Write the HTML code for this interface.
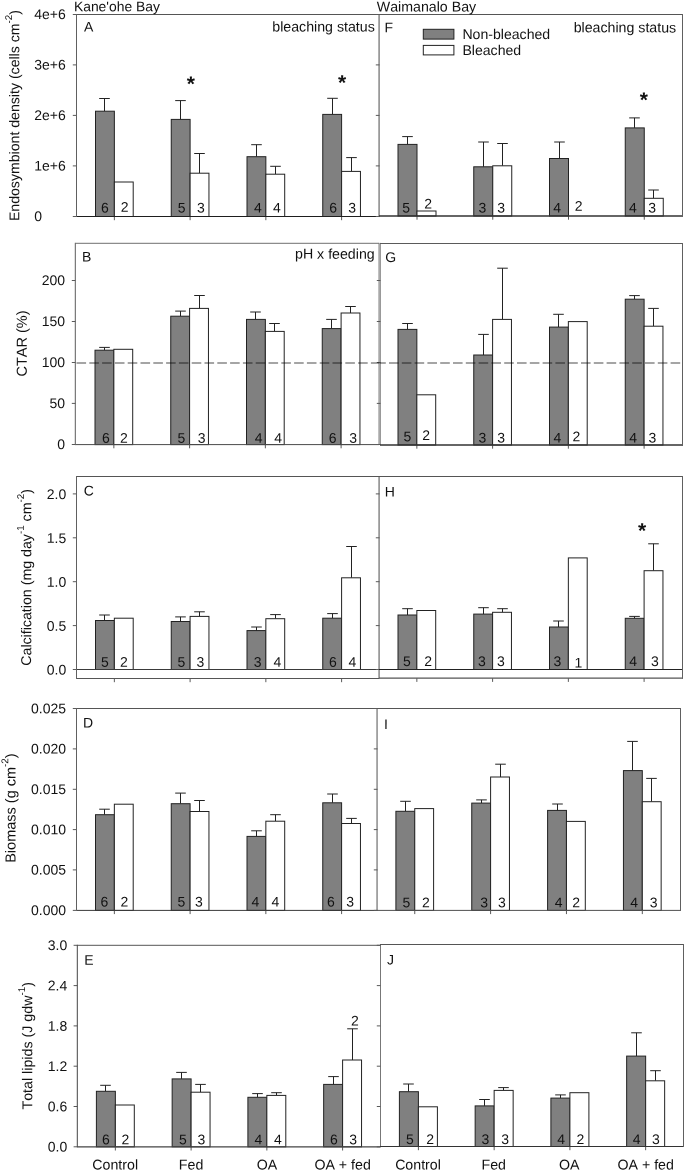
<!DOCTYPE html>
<html><head><meta charset="utf-8"><title>Figure</title>
<style>
html,body{margin:0;padding:0;background:#fff;}
body{width:685px;height:1171px;overflow:hidden;}
svg{display:block;will-change:transform;}
text{font-family:"Liberation Sans", sans-serif;fill:#111;font-kerning:none;}

</style></head><body>
<svg width="685" height="1171" viewBox="0 0 685 1171">
<rect x="0" y="0" width="685" height="1171" fill="#fff"/>
<rect x="378" y="14.0" width="1" height="202.50" fill="#b0b0b0"/>
<rect x="379" y="14.0" width="1" height="202.50" fill="#999"/>
<line x1="76.50" y1="14.50" x2="379.00" y2="14.50" stroke="#555" stroke-width="1" />
<line x1="72.80" y1="216.50" x2="76.50" y2="216.50" stroke="#5a5a5a" stroke-width="1" />
<line x1="72.80" y1="165.90" x2="76.50" y2="165.90" stroke="#5a5a5a" stroke-width="1" />
<line x1="72.80" y1="115.40" x2="76.50" y2="115.40" stroke="#5a5a5a" stroke-width="1" />
<line x1="72.80" y1="64.90" x2="76.50" y2="64.90" stroke="#5a5a5a" stroke-width="1" />
<line x1="72.80" y1="14.50" x2="76.50" y2="14.50" stroke="#5a5a5a" stroke-width="1" />
<line x1="104.50" y1="111.20" x2="104.50" y2="98.50" stroke="#222" stroke-width="1" />
<line x1="99.20" y1="98.50" x2="109.80" y2="98.50" stroke="#222" stroke-width="1" />
<rect x="95.50" y="111.20" width="18.85" height="105.30" fill="#808080" stroke="#222" stroke-width="1"/>
<rect x="114.35" y="182.00" width="18.85" height="34.50" fill="#fff" stroke="#222" stroke-width="1"/>
<text x="104.95" y="212.60" transform="rotate(0.05 104.95 212.60)" text-anchor="middle" font-size="14">6</text>
<text x="124.65" y="211.80" transform="rotate(0.05 124.65 211.80)" text-anchor="middle" font-size="14">2</text>
<line x1="114.35" y1="216.50" x2="114.35" y2="220.20" stroke="#5a5a5a" stroke-width="1" />
<line x1="180.50" y1="119.40" x2="180.50" y2="100.60" stroke="#222" stroke-width="1" />
<line x1="175.20" y1="100.60" x2="185.80" y2="100.60" stroke="#222" stroke-width="1" />
<rect x="171.25" y="119.40" width="18.85" height="97.10" fill="#808080" stroke="#222" stroke-width="1"/>
<line x1="199.50" y1="173.20" x2="199.50" y2="153.50" stroke="#222" stroke-width="1" />
<line x1="194.20" y1="153.50" x2="204.80" y2="153.50" stroke="#222" stroke-width="1" />
<rect x="190.10" y="173.20" width="18.85" height="43.30" fill="#fff" stroke="#222" stroke-width="1"/>
<text x="181.70" y="212.60" transform="rotate(0.05 181.70 212.60)" text-anchor="middle" font-size="14">5</text>
<text x="200.80" y="212.60" transform="rotate(0.05 200.80 212.60)" text-anchor="middle" font-size="14">3</text>
<line x1="190.10" y1="216.50" x2="190.10" y2="220.20" stroke="#5a5a5a" stroke-width="1" />
<line x1="256.50" y1="156.70" x2="256.50" y2="144.70" stroke="#222" stroke-width="1" />
<line x1="251.20" y1="144.70" x2="261.80" y2="144.70" stroke="#222" stroke-width="1" />
<rect x="247.00" y="156.70" width="18.85" height="59.80" fill="#808080" stroke="#222" stroke-width="1"/>
<line x1="275.50" y1="174.20" x2="275.50" y2="166.30" stroke="#222" stroke-width="1" />
<line x1="270.20" y1="166.30" x2="280.80" y2="166.30" stroke="#222" stroke-width="1" />
<rect x="265.85" y="174.20" width="18.85" height="42.30" fill="#fff" stroke="#222" stroke-width="1"/>
<text x="257.80" y="212.60" transform="rotate(0.05 257.80 212.60)" text-anchor="middle" font-size="14">4</text>
<text x="277.00" y="212.60" transform="rotate(0.05 277.00 212.60)" text-anchor="middle" font-size="14">4</text>
<line x1="265.85" y1="216.50" x2="265.85" y2="220.20" stroke="#5a5a5a" stroke-width="1" />
<line x1="332.50" y1="114.40" x2="332.50" y2="98.30" stroke="#222" stroke-width="1" />
<line x1="327.20" y1="98.30" x2="337.80" y2="98.30" stroke="#222" stroke-width="1" />
<rect x="322.75" y="114.40" width="18.85" height="102.10" fill="#808080" stroke="#222" stroke-width="1"/>
<line x1="351.50" y1="171.40" x2="351.50" y2="157.60" stroke="#222" stroke-width="1" />
<line x1="346.20" y1="157.60" x2="356.80" y2="157.60" stroke="#222" stroke-width="1" />
<rect x="341.60" y="171.40" width="18.85" height="45.10" fill="#fff" stroke="#222" stroke-width="1"/>
<text x="333.10" y="212.60" transform="rotate(0.05 333.10 212.60)" text-anchor="middle" font-size="14">6</text>
<text x="352.10" y="212.60" transform="rotate(0.05 352.10 212.60)" text-anchor="middle" font-size="14">3</text>
<line x1="341.60" y1="216.50" x2="341.60" y2="220.20" stroke="#5a5a5a" stroke-width="1" />
<line x1="76.50" y1="216.50" x2="379.00" y2="216.50" stroke="#1e1e1e" stroke-width="1" />
<line x1="76.50" y1="14.00" x2="76.50" y2="217.00" stroke="#606060" stroke-width="1" />
<text x="84.00" y="31.60" transform="rotate(0.05 84.00 31.60)" text-anchor="start" font-size="14">A</text>
<line x1="379.00" y1="14.50" x2="683.00" y2="14.50" stroke="#555" stroke-width="1" />
<line x1="375.80" y1="216.50" x2="379.50" y2="216.50" stroke="#5a5a5a" stroke-width="1" />
<line x1="375.80" y1="165.90" x2="379.50" y2="165.90" stroke="#5a5a5a" stroke-width="1" />
<line x1="375.80" y1="115.40" x2="379.50" y2="115.40" stroke="#5a5a5a" stroke-width="1" />
<line x1="375.80" y1="64.90" x2="379.50" y2="64.90" stroke="#5a5a5a" stroke-width="1" />
<line x1="375.80" y1="14.50" x2="379.50" y2="14.50" stroke="#5a5a5a" stroke-width="1" />
<line x1="407.50" y1="144.40" x2="407.50" y2="136.60" stroke="#222" stroke-width="1" />
<line x1="402.20" y1="136.60" x2="412.80" y2="136.60" stroke="#222" stroke-width="1" />
<rect x="398.00" y="144.40" width="19.00" height="71.60" fill="#808080" stroke="#222" stroke-width="1"/>
<rect x="417.00" y="211.00" width="19.00" height="5.00" fill="#fff" stroke="#222" stroke-width="1"/>
<text x="406.10" y="212.40" transform="rotate(0.05 406.10 212.40)" text-anchor="middle" font-size="14">5</text>
<text x="428.10" y="208.40" transform="rotate(0.05 428.10 208.40)" text-anchor="middle" font-size="14">2</text>
<line x1="417.00" y1="216.00" x2="417.00" y2="219.70" stroke="#5a5a5a" stroke-width="1" />
<line x1="483.50" y1="166.80" x2="483.50" y2="142.00" stroke="#222" stroke-width="1" />
<line x1="478.20" y1="142.00" x2="488.80" y2="142.00" stroke="#222" stroke-width="1" />
<rect x="473.75" y="166.80" width="19.00" height="49.20" fill="#808080" stroke="#222" stroke-width="1"/>
<line x1="502.50" y1="165.80" x2="502.50" y2="143.50" stroke="#222" stroke-width="1" />
<line x1="497.20" y1="143.50" x2="507.80" y2="143.50" stroke="#222" stroke-width="1" />
<rect x="492.75" y="165.80" width="19.00" height="50.20" fill="#fff" stroke="#222" stroke-width="1"/>
<text x="482.30" y="212.40" transform="rotate(0.05 482.30 212.40)" text-anchor="middle" font-size="14">3</text>
<text x="501.20" y="212.40" transform="rotate(0.05 501.20 212.40)" text-anchor="middle" font-size="14">3</text>
<line x1="492.75" y1="216.00" x2="492.75" y2="219.70" stroke="#5a5a5a" stroke-width="1" />
<line x1="559.50" y1="158.50" x2="559.50" y2="142.00" stroke="#222" stroke-width="1" />
<line x1="554.20" y1="142.00" x2="564.80" y2="142.00" stroke="#222" stroke-width="1" />
<rect x="549.50" y="158.50" width="19.00" height="57.50" fill="#808080" stroke="#222" stroke-width="1"/>
<text x="557.10" y="212.40" transform="rotate(0.05 557.10 212.40)" text-anchor="middle" font-size="14">4</text>
<text x="578.60" y="210.80" transform="rotate(0.05 578.60 210.80)" text-anchor="middle" font-size="14">2</text>
<line x1="568.50" y1="216.00" x2="568.50" y2="219.70" stroke="#5a5a5a" stroke-width="1" />
<line x1="634.50" y1="127.90" x2="634.50" y2="117.90" stroke="#222" stroke-width="1" />
<line x1="629.20" y1="117.90" x2="639.80" y2="117.90" stroke="#222" stroke-width="1" />
<rect x="625.25" y="127.90" width="19.00" height="88.10" fill="#808080" stroke="#222" stroke-width="1"/>
<line x1="653.50" y1="198.30" x2="653.50" y2="190.00" stroke="#222" stroke-width="1" />
<line x1="648.20" y1="190.00" x2="658.80" y2="190.00" stroke="#222" stroke-width="1" />
<rect x="644.25" y="198.30" width="19.00" height="17.70" fill="#fff" stroke="#222" stroke-width="1"/>
<text x="633.00" y="212.40" transform="rotate(0.05 633.00 212.40)" text-anchor="middle" font-size="14">4</text>
<text x="652.20" y="212.40" transform="rotate(0.05 652.20 212.40)" text-anchor="middle" font-size="14">3</text>
<line x1="644.25" y1="216.00" x2="644.25" y2="219.70" stroke="#5a5a5a" stroke-width="1" />
<line x1="379.00" y1="216.00" x2="683.00" y2="216.00" stroke="#333" stroke-width="1.4" />
<line x1="682.50" y1="14.00" x2="682.50" y2="216.50" stroke="#606060" stroke-width="1" />
<text x="384.40" y="32.20" transform="rotate(0.05 384.40 32.20)" text-anchor="start" font-size="14">F</text>
<text x="34.30" y="221.00" transform="rotate(0.05 34.30 221.00)" text-anchor="start" font-size="14">0</text>
<text x="34.30" y="170.40" transform="rotate(0.05 34.30 170.40)" text-anchor="start" font-size="14">1e+6</text>
<text x="34.30" y="119.90" transform="rotate(0.05 34.30 119.90)" text-anchor="start" font-size="14">2e+6</text>
<text x="34.30" y="69.40" transform="rotate(0.05 34.30 69.40)" text-anchor="start" font-size="14">3e+6</text>
<text x="34.30" y="19.00" transform="rotate(0.05 34.30 19.00)" text-anchor="start" font-size="14">4e+6</text>
<text transform="translate(19.30,115.50) rotate(-89.95)" x="-105.59" y="0" font-size="14.12"><tspan>Endosymbiont density (cells cm</tspan><tspan dy="-7.4" font-size="9.8">-2</tspan><tspan dy="7.4" font-size="14.12">)</tspan></text>
<rect x="378" y="242.9" width="1" height="201.80" fill="#c0c0c0"/>
<rect x="379" y="242.9" width="1" height="201.80" fill="#a8a8a8"/>
<rect x="380" y="242.9" width="1" height="201.80" fill="#999"/>
<line x1="75.50" y1="243.30" x2="379.00" y2="243.30" stroke="#707070" stroke-width="1" />
<line x1="71.80" y1="444.50" x2="75.50" y2="444.50" stroke="#5a5a5a" stroke-width="1" />
<line x1="71.80" y1="403.40" x2="75.50" y2="403.40" stroke="#5a5a5a" stroke-width="1" />
<line x1="71.80" y1="362.50" x2="75.50" y2="362.50" stroke="#5a5a5a" stroke-width="1" />
<line x1="71.80" y1="321.50" x2="75.50" y2="321.50" stroke="#5a5a5a" stroke-width="1" />
<line x1="71.80" y1="280.50" x2="75.50" y2="280.50" stroke="#5a5a5a" stroke-width="1" />
<line x1="104.50" y1="350.20" x2="104.50" y2="347.40" stroke="#222" stroke-width="1" />
<line x1="99.20" y1="347.40" x2="109.80" y2="347.40" stroke="#222" stroke-width="1" />
<rect x="95.00" y="350.20" width="18.85" height="94.40" fill="#808080" stroke="#222" stroke-width="1"/>
<rect x="113.85" y="349.30" width="18.85" height="95.30" fill="#fff" stroke="#222" stroke-width="1"/>
<text x="106.00" y="442.80" transform="rotate(0.05 106.00 442.80)" text-anchor="middle" font-size="14">6</text>
<text x="124.00" y="442.80" transform="rotate(0.05 124.00 442.80)" text-anchor="middle" font-size="14">2</text>
<line x1="113.85" y1="444.60" x2="113.85" y2="448.30" stroke="#5a5a5a" stroke-width="1" />
<line x1="180.50" y1="316.20" x2="180.50" y2="311.10" stroke="#222" stroke-width="1" />
<line x1="175.20" y1="311.10" x2="185.80" y2="311.10" stroke="#222" stroke-width="1" />
<rect x="170.75" y="316.20" width="18.85" height="128.40" fill="#808080" stroke="#222" stroke-width="1"/>
<line x1="199.50" y1="308.40" x2="199.50" y2="295.50" stroke="#222" stroke-width="1" />
<line x1="194.20" y1="295.50" x2="204.80" y2="295.50" stroke="#222" stroke-width="1" />
<rect x="189.60" y="308.40" width="18.85" height="136.20" fill="#fff" stroke="#222" stroke-width="1"/>
<text x="181.50" y="442.80" transform="rotate(0.05 181.50 442.80)" text-anchor="middle" font-size="14">5</text>
<text x="201.70" y="442.80" transform="rotate(0.05 201.70 442.80)" text-anchor="middle" font-size="14">3</text>
<line x1="189.60" y1="444.60" x2="189.60" y2="448.30" stroke="#5a5a5a" stroke-width="1" />
<line x1="255.50" y1="319.40" x2="255.50" y2="312.00" stroke="#222" stroke-width="1" />
<line x1="250.20" y1="312.00" x2="260.80" y2="312.00" stroke="#222" stroke-width="1" />
<rect x="246.50" y="319.40" width="18.85" height="125.20" fill="#808080" stroke="#222" stroke-width="1"/>
<line x1="274.50" y1="331.40" x2="274.50" y2="323.50" stroke="#222" stroke-width="1" />
<line x1="269.20" y1="323.50" x2="279.80" y2="323.50" stroke="#222" stroke-width="1" />
<rect x="265.35" y="331.40" width="18.85" height="113.20" fill="#fff" stroke="#222" stroke-width="1"/>
<text x="258.60" y="442.80" transform="rotate(0.05 258.60 442.80)" text-anchor="middle" font-size="14">4</text>
<text x="278.20" y="442.80" transform="rotate(0.05 278.20 442.80)" text-anchor="middle" font-size="14">4</text>
<line x1="265.35" y1="444.60" x2="265.35" y2="448.30" stroke="#5a5a5a" stroke-width="1" />
<line x1="331.50" y1="328.60" x2="331.50" y2="319.40" stroke="#222" stroke-width="1" />
<line x1="326.20" y1="319.40" x2="336.80" y2="319.40" stroke="#222" stroke-width="1" />
<rect x="322.25" y="328.60" width="18.85" height="116.00" fill="#808080" stroke="#222" stroke-width="1"/>
<line x1="350.50" y1="313.00" x2="350.50" y2="306.50" stroke="#222" stroke-width="1" />
<line x1="345.20" y1="306.50" x2="355.80" y2="306.50" stroke="#222" stroke-width="1" />
<rect x="341.10" y="313.00" width="18.85" height="131.60" fill="#fff" stroke="#222" stroke-width="1"/>
<text x="332.70" y="442.80" transform="rotate(0.05 332.70 442.80)" text-anchor="middle" font-size="14">6</text>
<text x="353.10" y="442.80" transform="rotate(0.05 353.10 442.80)" text-anchor="middle" font-size="14">3</text>
<line x1="341.10" y1="444.60" x2="341.10" y2="448.30" stroke="#5a5a5a" stroke-width="1" />
<line x1="75.50" y1="444.60" x2="379.00" y2="444.60" stroke="#4a4a4a" stroke-width="1" />
<line x1="75.30" y1="242.80" x2="75.30" y2="445.10" stroke="#5a5a5a" stroke-width="1" />
<text x="81.95" y="261.50" transform="rotate(0.05 81.95 261.50)" text-anchor="start" font-size="14">B</text>
<line x1="380.00" y1="243.50" x2="683.00" y2="243.50" stroke="#5a5a5a" stroke-width="1" />
<line x1="376.80" y1="444.50" x2="380.50" y2="444.50" stroke="#5a5a5a" stroke-width="1" />
<line x1="376.80" y1="403.40" x2="380.50" y2="403.40" stroke="#5a5a5a" stroke-width="1" />
<line x1="376.80" y1="362.50" x2="380.50" y2="362.50" stroke="#5a5a5a" stroke-width="1" />
<line x1="376.80" y1="321.50" x2="380.50" y2="321.50" stroke="#5a5a5a" stroke-width="1" />
<line x1="376.80" y1="280.50" x2="380.50" y2="280.50" stroke="#5a5a5a" stroke-width="1" />
<line x1="407.50" y1="329.40" x2="407.50" y2="323.50" stroke="#222" stroke-width="1" />
<line x1="402.20" y1="323.50" x2="412.80" y2="323.50" stroke="#222" stroke-width="1" />
<rect x="398.00" y="329.40" width="18.85" height="115.60" fill="#808080" stroke="#222" stroke-width="1"/>
<rect x="416.85" y="394.80" width="18.85" height="50.20" fill="#fff" stroke="#222" stroke-width="1"/>
<text x="407.50" y="441.20" transform="rotate(0.05 407.50 441.20)" text-anchor="middle" font-size="14">5</text>
<text x="426.10" y="440.00" transform="rotate(0.05 426.10 440.00)" text-anchor="middle" font-size="14">2</text>
<line x1="416.85" y1="445.00" x2="416.85" y2="448.70" stroke="#5a5a5a" stroke-width="1" />
<line x1="483.50" y1="355.00" x2="483.50" y2="334.40" stroke="#222" stroke-width="1" />
<line x1="478.20" y1="334.40" x2="488.80" y2="334.40" stroke="#222" stroke-width="1" />
<rect x="473.75" y="355.00" width="18.85" height="90.00" fill="#808080" stroke="#222" stroke-width="1"/>
<line x1="502.50" y1="319.40" x2="502.50" y2="268.20" stroke="#222" stroke-width="1" />
<line x1="497.20" y1="268.20" x2="507.80" y2="268.20" stroke="#222" stroke-width="1" />
<rect x="492.60" y="319.40" width="18.85" height="125.60" fill="#fff" stroke="#222" stroke-width="1"/>
<text x="482.50" y="442.50" transform="rotate(0.05 482.50 442.50)" text-anchor="middle" font-size="14">3</text>
<text x="501.10" y="442.50" transform="rotate(0.05 501.10 442.50)" text-anchor="middle" font-size="14">3</text>
<line x1="492.60" y1="445.00" x2="492.60" y2="448.70" stroke="#5a5a5a" stroke-width="1" />
<line x1="558.50" y1="327.10" x2="558.50" y2="314.30" stroke="#222" stroke-width="1" />
<line x1="553.20" y1="314.30" x2="563.80" y2="314.30" stroke="#222" stroke-width="1" />
<rect x="549.50" y="327.10" width="18.85" height="117.90" fill="#808080" stroke="#222" stroke-width="1"/>
<rect x="568.35" y="321.60" width="18.85" height="123.40" fill="#fff" stroke="#222" stroke-width="1"/>
<text x="557.40" y="442.50" transform="rotate(0.05 557.40 442.50)" text-anchor="middle" font-size="14">4</text>
<text x="576.40" y="441.30" transform="rotate(0.05 576.40 441.30)" text-anchor="middle" font-size="14">2</text>
<line x1="568.35" y1="445.00" x2="568.35" y2="448.70" stroke="#5a5a5a" stroke-width="1" />
<line x1="634.50" y1="299.20" x2="634.50" y2="295.60" stroke="#222" stroke-width="1" />
<line x1="629.20" y1="295.60" x2="639.80" y2="295.60" stroke="#222" stroke-width="1" />
<rect x="625.25" y="299.20" width="18.85" height="145.80" fill="#808080" stroke="#222" stroke-width="1"/>
<line x1="653.50" y1="326.20" x2="653.50" y2="308.40" stroke="#222" stroke-width="1" />
<line x1="648.20" y1="308.40" x2="658.80" y2="308.40" stroke="#222" stroke-width="1" />
<rect x="644.10" y="326.20" width="18.85" height="118.80" fill="#fff" stroke="#222" stroke-width="1"/>
<text x="633.20" y="442.50" transform="rotate(0.05 633.20 442.50)" text-anchor="middle" font-size="14">4</text>
<text x="652.40" y="442.50" transform="rotate(0.05 652.40 442.50)" text-anchor="middle" font-size="14">3</text>
<line x1="644.10" y1="445.00" x2="644.10" y2="448.70" stroke="#5a5a5a" stroke-width="1" />
<line x1="380.00" y1="445.00" x2="683.00" y2="445.00" stroke="#333" stroke-width="1.4" />
<line x1="682.50" y1="243.00" x2="682.50" y2="445.50" stroke="#606060" stroke-width="1" />
<text x="385.30" y="262.00" transform="rotate(0.05 385.30 262.00)" text-anchor="start" font-size="14">G</text>
<text x="65.00" y="449.10" transform="rotate(0.05 65.00 449.10)" text-anchor="end" font-size="14">0</text>
<text x="65.00" y="408.00" transform="rotate(0.05 65.00 408.00)" text-anchor="end" font-size="14">50</text>
<text x="65.00" y="367.10" transform="rotate(0.05 65.00 367.10)" text-anchor="end" font-size="14">100</text>
<text x="65.00" y="326.10" transform="rotate(0.05 65.00 326.10)" text-anchor="end" font-size="14">150</text>
<text x="65.00" y="285.10" transform="rotate(0.05 65.00 285.10)" text-anchor="end" font-size="14">200</text>
<text transform="translate(26.70,343.50) rotate(-89.95)" x="-33.03" y="0" font-size="14.5"><tspan>CTAR (%)</tspan></text>
<rect x="378" y="476.0" width="1" height="202.50" fill="#b0b0b0"/>
<rect x="379" y="476.0" width="1" height="202.50" fill="#999"/>
<line x1="76.50" y1="476.50" x2="379.00" y2="476.50" stroke="#555" stroke-width="1" />
<line x1="76.50" y1="678.50" x2="379.00" y2="678.50" stroke="#555" stroke-width="1" />
<line x1="72.80" y1="669.50" x2="76.50" y2="669.50" stroke="#5a5a5a" stroke-width="1" />
<line x1="72.80" y1="625.60" x2="76.50" y2="625.60" stroke="#5a5a5a" stroke-width="1" />
<line x1="72.80" y1="581.70" x2="76.50" y2="581.70" stroke="#5a5a5a" stroke-width="1" />
<line x1="72.80" y1="537.80" x2="76.50" y2="537.80" stroke="#5a5a5a" stroke-width="1" />
<line x1="72.80" y1="493.90" x2="76.50" y2="493.90" stroke="#5a5a5a" stroke-width="1" />
<line x1="104.50" y1="620.50" x2="104.50" y2="615.00" stroke="#222" stroke-width="1" />
<line x1="99.20" y1="615.00" x2="109.80" y2="615.00" stroke="#222" stroke-width="1" />
<rect x="95.50" y="620.50" width="18.85" height="49.00" fill="#808080" stroke="#222" stroke-width="1"/>
<rect x="114.35" y="618.20" width="18.85" height="51.30" fill="#fff" stroke="#222" stroke-width="1"/>
<text x="104.80" y="666.80" transform="rotate(0.05 104.80 666.80)" text-anchor="middle" font-size="14">5</text>
<text x="124.00" y="666.80" transform="rotate(0.05 124.00 666.80)" text-anchor="middle" font-size="14">2</text>
<line x1="114.35" y1="678.50" x2="114.35" y2="682.20" stroke="#5a5a5a" stroke-width="1" />
<line x1="180.50" y1="621.50" x2="180.50" y2="616.90" stroke="#222" stroke-width="1" />
<line x1="175.20" y1="616.90" x2="185.80" y2="616.90" stroke="#222" stroke-width="1" />
<rect x="171.25" y="621.50" width="18.85" height="48.00" fill="#808080" stroke="#222" stroke-width="1"/>
<line x1="199.50" y1="616.40" x2="199.50" y2="611.80" stroke="#222" stroke-width="1" />
<line x1="194.20" y1="611.80" x2="204.80" y2="611.80" stroke="#222" stroke-width="1" />
<rect x="190.10" y="616.40" width="18.85" height="53.10" fill="#fff" stroke="#222" stroke-width="1"/>
<text x="181.50" y="666.80" transform="rotate(0.05 181.50 666.80)" text-anchor="middle" font-size="14">5</text>
<text x="200.50" y="666.80" transform="rotate(0.05 200.50 666.80)" text-anchor="middle" font-size="14">3</text>
<line x1="190.10" y1="678.50" x2="190.10" y2="682.20" stroke="#5a5a5a" stroke-width="1" />
<line x1="256.50" y1="630.60" x2="256.50" y2="627.00" stroke="#222" stroke-width="1" />
<line x1="251.20" y1="627.00" x2="261.80" y2="627.00" stroke="#222" stroke-width="1" />
<rect x="247.00" y="630.60" width="18.85" height="38.90" fill="#808080" stroke="#222" stroke-width="1"/>
<line x1="275.50" y1="618.70" x2="275.50" y2="614.60" stroke="#222" stroke-width="1" />
<line x1="270.20" y1="614.60" x2="280.80" y2="614.60" stroke="#222" stroke-width="1" />
<rect x="265.85" y="618.70" width="18.85" height="50.80" fill="#fff" stroke="#222" stroke-width="1"/>
<text x="257.60" y="666.80" transform="rotate(0.05 257.60 666.80)" text-anchor="middle" font-size="14">3</text>
<text x="277.40" y="666.80" transform="rotate(0.05 277.40 666.80)" text-anchor="middle" font-size="14">4</text>
<line x1="265.85" y1="678.50" x2="265.85" y2="682.20" stroke="#5a5a5a" stroke-width="1" />
<line x1="332.50" y1="618.20" x2="332.50" y2="613.60" stroke="#222" stroke-width="1" />
<line x1="327.20" y1="613.60" x2="337.80" y2="613.60" stroke="#222" stroke-width="1" />
<rect x="322.75" y="618.20" width="18.85" height="51.30" fill="#808080" stroke="#222" stroke-width="1"/>
<line x1="351.50" y1="577.80" x2="351.50" y2="546.50" stroke="#222" stroke-width="1" />
<line x1="346.20" y1="546.50" x2="356.80" y2="546.50" stroke="#222" stroke-width="1" />
<rect x="341.60" y="577.80" width="18.85" height="91.70" fill="#fff" stroke="#222" stroke-width="1"/>
<text x="333.00" y="666.80" transform="rotate(0.05 333.00 666.80)" text-anchor="middle" font-size="14">6</text>
<text x="352.30" y="666.80" transform="rotate(0.05 352.30 666.80)" text-anchor="middle" font-size="14">4</text>
<line x1="341.60" y1="678.50" x2="341.60" y2="682.20" stroke="#5a5a5a" stroke-width="1" />
<line x1="76.50" y1="669.50" x2="379.00" y2="669.50" stroke="#3a3a3a" stroke-width="1" />
<line x1="76.50" y1="476.00" x2="76.50" y2="679.00" stroke="#606060" stroke-width="1" />
<text x="83.80" y="495.40" transform="rotate(0.05 83.80 495.40)" text-anchor="start" font-size="14">C</text>
<line x1="379.00" y1="476.50" x2="683.00" y2="476.50" stroke="#555" stroke-width="1" />
<line x1="379.00" y1="678.20" x2="683.00" y2="678.20" stroke="#555" stroke-width="1.3" />
<line x1="375.80" y1="669.50" x2="379.50" y2="669.50" stroke="#5a5a5a" stroke-width="1" />
<line x1="375.80" y1="625.60" x2="379.50" y2="625.60" stroke="#5a5a5a" stroke-width="1" />
<line x1="375.80" y1="581.70" x2="379.50" y2="581.70" stroke="#5a5a5a" stroke-width="1" />
<line x1="375.80" y1="537.80" x2="379.50" y2="537.80" stroke="#5a5a5a" stroke-width="1" />
<line x1="375.80" y1="493.90" x2="379.50" y2="493.90" stroke="#5a5a5a" stroke-width="1" />
<line x1="407.50" y1="615.00" x2="407.50" y2="608.70" stroke="#222" stroke-width="1" />
<line x1="402.20" y1="608.70" x2="412.80" y2="608.70" stroke="#222" stroke-width="1" />
<rect x="398.00" y="615.00" width="18.85" height="54.50" fill="#808080" stroke="#222" stroke-width="1"/>
<rect x="416.85" y="610.50" width="18.85" height="59.00" fill="#fff" stroke="#222" stroke-width="1"/>
<text x="406.90" y="666.00" transform="rotate(0.05 406.90 666.00)" text-anchor="middle" font-size="14">5</text>
<text x="428.10" y="666.00" transform="rotate(0.05 428.10 666.00)" text-anchor="middle" font-size="14">2</text>
<line x1="416.85" y1="678.20" x2="416.85" y2="681.90" stroke="#5a5a5a" stroke-width="1" />
<line x1="483.50" y1="614.10" x2="483.50" y2="607.70" stroke="#222" stroke-width="1" />
<line x1="478.20" y1="607.70" x2="488.80" y2="607.70" stroke="#222" stroke-width="1" />
<rect x="473.75" y="614.10" width="18.85" height="55.40" fill="#808080" stroke="#222" stroke-width="1"/>
<line x1="502.50" y1="612.30" x2="502.50" y2="608.70" stroke="#222" stroke-width="1" />
<line x1="497.20" y1="608.70" x2="507.80" y2="608.70" stroke="#222" stroke-width="1" />
<rect x="492.60" y="612.30" width="18.85" height="57.20" fill="#fff" stroke="#222" stroke-width="1"/>
<text x="481.90" y="666.00" transform="rotate(0.05 481.90 666.00)" text-anchor="middle" font-size="14">3</text>
<text x="500.90" y="666.00" transform="rotate(0.05 500.90 666.00)" text-anchor="middle" font-size="14">3</text>
<line x1="492.60" y1="678.20" x2="492.60" y2="681.90" stroke="#5a5a5a" stroke-width="1" />
<line x1="558.50" y1="627.00" x2="558.50" y2="621.00" stroke="#222" stroke-width="1" />
<line x1="553.20" y1="621.00" x2="563.80" y2="621.00" stroke="#222" stroke-width="1" />
<rect x="549.50" y="627.00" width="18.85" height="42.50" fill="#808080" stroke="#222" stroke-width="1"/>
<rect x="568.35" y="557.90" width="18.85" height="111.60" fill="#fff" stroke="#222" stroke-width="1"/>
<text x="557.50" y="666.00" transform="rotate(0.05 557.50 666.00)" text-anchor="middle" font-size="14">3</text>
<text x="578.40" y="667.60" transform="rotate(0.05 578.40 667.60)" text-anchor="middle" font-size="14">1</text>
<line x1="568.35" y1="678.20" x2="568.35" y2="681.90" stroke="#5a5a5a" stroke-width="1" />
<line x1="634.50" y1="618.30" x2="634.50" y2="616.40" stroke="#222" stroke-width="1" />
<line x1="629.20" y1="616.40" x2="639.80" y2="616.40" stroke="#222" stroke-width="1" />
<rect x="625.25" y="618.30" width="18.85" height="51.20" fill="#808080" stroke="#222" stroke-width="1"/>
<line x1="653.50" y1="570.70" x2="653.50" y2="543.80" stroke="#222" stroke-width="1" />
<line x1="648.20" y1="543.80" x2="658.80" y2="543.80" stroke="#222" stroke-width="1" />
<rect x="644.10" y="570.70" width="18.85" height="98.80" fill="#fff" stroke="#222" stroke-width="1"/>
<text x="633.20" y="666.00" transform="rotate(0.05 633.20 666.00)" text-anchor="middle" font-size="14">4</text>
<text x="654.80" y="666.00" transform="rotate(0.05 654.80 666.00)" text-anchor="middle" font-size="14">3</text>
<line x1="644.10" y1="678.20" x2="644.10" y2="681.90" stroke="#5a5a5a" stroke-width="1" />
<line x1="379.00" y1="669.50" x2="683.00" y2="669.50" stroke="#222" stroke-width="1" />
<line x1="682.50" y1="476.00" x2="682.50" y2="678.70" stroke="#606060" stroke-width="1" />
<text x="384.80" y="496.50" transform="rotate(0.05 384.80 496.50)" text-anchor="start" font-size="14">H</text>
<text x="66.20" y="674.60" transform="rotate(0.05 66.20 674.60)" text-anchor="end" font-size="14">0.0</text>
<text x="66.20" y="630.70" transform="rotate(0.05 66.20 630.70)" text-anchor="end" font-size="14">0.5</text>
<text x="66.20" y="586.80" transform="rotate(0.05 66.20 586.80)" text-anchor="end" font-size="14">1.0</text>
<text x="66.20" y="542.90" transform="rotate(0.05 66.20 542.90)" text-anchor="end" font-size="14">1.5</text>
<text x="66.20" y="499.00" transform="rotate(0.05 66.20 499.00)" text-anchor="end" font-size="14">2.0</text>
<text transform="translate(31.20,577.40) rotate(-89.95)" x="-88.36" y="0" font-size="14.19"><tspan>Calcification (mg day</tspan><tspan dy="-7.4" font-size="9.8">-1</tspan><tspan dy="7.4" font-size="14.19"> cm</tspan><tspan dy="-7.4" font-size="9.8">-2</tspan><tspan dy="7.4" font-size="14.19">)</tspan></text>
<rect x="376" y="708.0" width="1" height="202.40" fill="#b0b0b0"/>
<rect x="377" y="708.0" width="1" height="202.40" fill="#a0a0a0"/>
<line x1="76.50" y1="708.50" x2="377.00" y2="708.50" stroke="#555" stroke-width="1" />
<line x1="72.80" y1="910.40" x2="76.50" y2="910.40" stroke="#5a5a5a" stroke-width="1" />
<line x1="72.80" y1="869.90" x2="76.50" y2="869.90" stroke="#5a5a5a" stroke-width="1" />
<line x1="72.80" y1="829.60" x2="76.50" y2="829.60" stroke="#5a5a5a" stroke-width="1" />
<line x1="72.80" y1="789.30" x2="76.50" y2="789.30" stroke="#5a5a5a" stroke-width="1" />
<line x1="72.80" y1="748.90" x2="76.50" y2="748.90" stroke="#5a5a5a" stroke-width="1" />
<line x1="72.80" y1="708.50" x2="76.50" y2="708.50" stroke="#5a5a5a" stroke-width="1" />
<line x1="104.50" y1="814.70" x2="104.50" y2="809.20" stroke="#222" stroke-width="1" />
<line x1="99.20" y1="809.20" x2="109.80" y2="809.20" stroke="#222" stroke-width="1" />
<rect x="95.50" y="814.70" width="18.85" height="95.70" fill="#808080" stroke="#222" stroke-width="1"/>
<rect x="114.35" y="804.20" width="18.85" height="106.20" fill="#fff" stroke="#222" stroke-width="1"/>
<text x="104.30" y="906.50" transform="rotate(0.05 104.30 906.50)" text-anchor="middle" font-size="14">6</text>
<text x="124.40" y="906.50" transform="rotate(0.05 124.40 906.50)" text-anchor="middle" font-size="14">2</text>
<line x1="114.35" y1="910.40" x2="114.35" y2="914.10" stroke="#5a5a5a" stroke-width="1" />
<line x1="180.50" y1="803.70" x2="180.50" y2="793.10" stroke="#222" stroke-width="1" />
<line x1="175.20" y1="793.10" x2="185.80" y2="793.10" stroke="#222" stroke-width="1" />
<rect x="171.25" y="803.70" width="18.85" height="106.70" fill="#808080" stroke="#222" stroke-width="1"/>
<line x1="199.50" y1="811.50" x2="199.50" y2="800.50" stroke="#222" stroke-width="1" />
<line x1="194.20" y1="800.50" x2="204.80" y2="800.50" stroke="#222" stroke-width="1" />
<rect x="190.10" y="811.50" width="18.85" height="98.90" fill="#fff" stroke="#222" stroke-width="1"/>
<text x="181.30" y="906.50" transform="rotate(0.05 181.30 906.50)" text-anchor="middle" font-size="14">5</text>
<text x="198.80" y="906.50" transform="rotate(0.05 198.80 906.50)" text-anchor="middle" font-size="14">3</text>
<line x1="190.10" y1="910.40" x2="190.10" y2="914.10" stroke="#5a5a5a" stroke-width="1" />
<line x1="256.50" y1="836.40" x2="256.50" y2="830.80" stroke="#222" stroke-width="1" />
<line x1="251.20" y1="830.80" x2="261.80" y2="830.80" stroke="#222" stroke-width="1" />
<rect x="247.00" y="836.40" width="18.85" height="74.00" fill="#808080" stroke="#222" stroke-width="1"/>
<line x1="275.50" y1="821.20" x2="275.50" y2="814.70" stroke="#222" stroke-width="1" />
<line x1="270.20" y1="814.70" x2="280.80" y2="814.70" stroke="#222" stroke-width="1" />
<rect x="265.85" y="821.20" width="18.85" height="89.20" fill="#fff" stroke="#222" stroke-width="1"/>
<text x="255.30" y="906.50" transform="rotate(0.05 255.30 906.50)" text-anchor="middle" font-size="14">4</text>
<text x="275.30" y="906.50" transform="rotate(0.05 275.30 906.50)" text-anchor="middle" font-size="14">4</text>
<line x1="265.85" y1="910.40" x2="265.85" y2="914.10" stroke="#5a5a5a" stroke-width="1" />
<line x1="332.50" y1="802.80" x2="332.50" y2="794.00" stroke="#222" stroke-width="1" />
<line x1="327.20" y1="794.00" x2="337.80" y2="794.00" stroke="#222" stroke-width="1" />
<rect x="322.75" y="802.80" width="18.85" height="107.60" fill="#808080" stroke="#222" stroke-width="1"/>
<line x1="351.50" y1="823.50" x2="351.50" y2="818.40" stroke="#222" stroke-width="1" />
<line x1="346.20" y1="818.40" x2="356.80" y2="818.40" stroke="#222" stroke-width="1" />
<rect x="341.60" y="823.50" width="18.85" height="86.90" fill="#fff" stroke="#222" stroke-width="1"/>
<text x="331.00" y="906.50" transform="rotate(0.05 331.00 906.50)" text-anchor="middle" font-size="14">6</text>
<text x="350.20" y="906.50" transform="rotate(0.05 350.20 906.50)" text-anchor="middle" font-size="14">3</text>
<line x1="341.60" y1="910.40" x2="341.60" y2="914.10" stroke="#5a5a5a" stroke-width="1" />
<line x1="76.50" y1="910.40" x2="377.00" y2="910.40" stroke="#3a3a3a" stroke-width="1" />
<line x1="76.50" y1="708.00" x2="76.50" y2="910.90" stroke="#606060" stroke-width="1" />
<text x="83.05" y="727.60" transform="rotate(0.05 83.05 727.60)" text-anchor="start" font-size="14">D</text>
<line x1="377.00" y1="708.50" x2="681.00" y2="708.50" stroke="#555" stroke-width="1" />
<line x1="373.80" y1="910.40" x2="377.50" y2="910.40" stroke="#5a5a5a" stroke-width="1" />
<line x1="373.80" y1="869.90" x2="377.50" y2="869.90" stroke="#5a5a5a" stroke-width="1" />
<line x1="373.80" y1="829.60" x2="377.50" y2="829.60" stroke="#5a5a5a" stroke-width="1" />
<line x1="373.80" y1="789.30" x2="377.50" y2="789.30" stroke="#5a5a5a" stroke-width="1" />
<line x1="373.80" y1="748.90" x2="377.50" y2="748.90" stroke="#5a5a5a" stroke-width="1" />
<line x1="373.80" y1="708.50" x2="377.50" y2="708.50" stroke="#5a5a5a" stroke-width="1" />
<line x1="405.50" y1="811.30" x2="405.50" y2="801.30" stroke="#222" stroke-width="1" />
<line x1="400.20" y1="801.30" x2="410.80" y2="801.30" stroke="#222" stroke-width="1" />
<rect x="395.90" y="811.30" width="18.85" height="99.10" fill="#808080" stroke="#222" stroke-width="1"/>
<rect x="414.75" y="808.60" width="18.85" height="101.80" fill="#fff" stroke="#222" stroke-width="1"/>
<text x="406.50" y="907.20" transform="rotate(0.05 406.50 907.20)" text-anchor="middle" font-size="14">5</text>
<text x="426.00" y="907.20" transform="rotate(0.05 426.00 907.20)" text-anchor="middle" font-size="14">2</text>
<line x1="414.75" y1="910.40" x2="414.75" y2="914.10" stroke="#5a5a5a" stroke-width="1" />
<line x1="481.50" y1="803.10" x2="481.50" y2="799.90" stroke="#222" stroke-width="1" />
<line x1="476.20" y1="799.90" x2="486.80" y2="799.90" stroke="#222" stroke-width="1" />
<rect x="471.75" y="803.10" width="18.85" height="107.30" fill="#808080" stroke="#222" stroke-width="1"/>
<line x1="500.50" y1="777.00" x2="500.50" y2="764.20" stroke="#222" stroke-width="1" />
<line x1="495.20" y1="764.20" x2="505.80" y2="764.20" stroke="#222" stroke-width="1" />
<rect x="490.60" y="777.00" width="18.85" height="133.40" fill="#fff" stroke="#222" stroke-width="1"/>
<text x="484.20" y="907.20" transform="rotate(0.05 484.20 907.20)" text-anchor="middle" font-size="14">3</text>
<text x="502.00" y="907.20" transform="rotate(0.05 502.00 907.20)" text-anchor="middle" font-size="14">3</text>
<line x1="490.60" y1="910.40" x2="490.60" y2="914.10" stroke="#5a5a5a" stroke-width="1" />
<line x1="557.50" y1="810.40" x2="557.50" y2="804.00" stroke="#222" stroke-width="1" />
<line x1="552.20" y1="804.00" x2="562.80" y2="804.00" stroke="#222" stroke-width="1" />
<rect x="547.60" y="810.40" width="18.85" height="100.00" fill="#808080" stroke="#222" stroke-width="1"/>
<rect x="566.45" y="821.40" width="18.85" height="89.00" fill="#fff" stroke="#222" stroke-width="1"/>
<text x="558.70" y="907.20" transform="rotate(0.05 558.70 907.20)" text-anchor="middle" font-size="14">4</text>
<text x="576.20" y="907.20" transform="rotate(0.05 576.20 907.20)" text-anchor="middle" font-size="14">2</text>
<line x1="566.45" y1="910.40" x2="566.45" y2="914.10" stroke="#5a5a5a" stroke-width="1" />
<line x1="632.50" y1="770.60" x2="632.50" y2="741.40" stroke="#222" stroke-width="1" />
<line x1="627.20" y1="741.40" x2="637.80" y2="741.40" stroke="#222" stroke-width="1" />
<rect x="623.45" y="770.60" width="18.85" height="139.80" fill="#808080" stroke="#222" stroke-width="1"/>
<line x1="651.50" y1="801.70" x2="651.50" y2="778.40" stroke="#222" stroke-width="1" />
<line x1="646.20" y1="778.40" x2="656.80" y2="778.40" stroke="#222" stroke-width="1" />
<rect x="642.30" y="801.70" width="18.85" height="108.70" fill="#fff" stroke="#222" stroke-width="1"/>
<text x="634.20" y="907.20" transform="rotate(0.05 634.20 907.20)" text-anchor="middle" font-size="14">4</text>
<text x="653.60" y="907.20" transform="rotate(0.05 653.60 907.20)" text-anchor="middle" font-size="14">3</text>
<line x1="642.30" y1="910.40" x2="642.30" y2="914.10" stroke="#5a5a5a" stroke-width="1" />
<line x1="377.00" y1="910.40" x2="681.00" y2="910.40" stroke="#505050" stroke-width="1" />
<line x1="680.50" y1="708.00" x2="680.50" y2="910.90" stroke="#606060" stroke-width="1" />
<text x="384.00" y="729.10" transform="rotate(0.05 384.00 729.10)" text-anchor="start" font-size="14">I</text>
<text x="66.10" y="915.10" transform="rotate(0.05 66.10 915.10)" text-anchor="end" font-size="14">0.000</text>
<text x="66.10" y="874.60" transform="rotate(0.05 66.10 874.60)" text-anchor="end" font-size="14">0.005</text>
<text x="66.10" y="834.30" transform="rotate(0.05 66.10 834.30)" text-anchor="end" font-size="14">0.010</text>
<text x="66.10" y="794.00" transform="rotate(0.05 66.10 794.00)" text-anchor="end" font-size="14">0.015</text>
<text x="66.10" y="753.60" transform="rotate(0.05 66.10 753.60)" text-anchor="end" font-size="14">0.020</text>
<text x="66.10" y="713.20" transform="rotate(0.05 66.10 713.20)" text-anchor="end" font-size="14">0.025</text>
<text transform="translate(15.50,808.10) rotate(-89.95)" x="-54.71" y="0" font-size="14.5"><tspan>Biomass (g cm</tspan><tspan dy="-7.4" font-size="9.8">-2</tspan><tspan dy="7.4" font-size="14.5">)</tspan></text>
<rect x="380" y="944.0" width="1" height="202.60" fill="#777"/>
<line x1="77.30" y1="945.30" x2="380.50" y2="945.30" stroke="#555" stroke-width="1" />
<line x1="73.60" y1="1146.80" x2="77.30" y2="1146.80" stroke="#5a5a5a" stroke-width="1" />
<line x1="73.60" y1="1106.50" x2="77.30" y2="1106.50" stroke="#5a5a5a" stroke-width="1" />
<line x1="73.60" y1="1066.20" x2="77.30" y2="1066.20" stroke="#5a5a5a" stroke-width="1" />
<line x1="73.60" y1="1025.90" x2="77.30" y2="1025.90" stroke="#5a5a5a" stroke-width="1" />
<line x1="73.60" y1="985.60" x2="77.30" y2="985.60" stroke="#5a5a5a" stroke-width="1" />
<line x1="73.60" y1="945.30" x2="77.30" y2="945.30" stroke="#5a5a5a" stroke-width="1" />
<line x1="105.50" y1="1091.30" x2="105.50" y2="1085.30" stroke="#222" stroke-width="1" />
<line x1="100.20" y1="1085.30" x2="110.80" y2="1085.30" stroke="#222" stroke-width="1" />
<rect x="96.40" y="1091.30" width="18.95" height="55.50" fill="#808080" stroke="#222" stroke-width="1"/>
<rect x="115.35" y="1105.00" width="18.95" height="41.80" fill="#fff" stroke="#222" stroke-width="1"/>
<text x="105.80" y="1144.30" transform="rotate(0.05 105.80 1144.30)" text-anchor="middle" font-size="14">6</text>
<text x="125.30" y="1144.30" transform="rotate(0.05 125.30 1144.30)" text-anchor="middle" font-size="14">2</text>
<line x1="115.35" y1="1146.80" x2="115.35" y2="1150.50" stroke="#5a5a5a" stroke-width="1" />
<line x1="181.50" y1="1078.90" x2="181.50" y2="1072.40" stroke="#222" stroke-width="1" />
<line x1="176.20" y1="1072.40" x2="186.80" y2="1072.40" stroke="#222" stroke-width="1" />
<rect x="172.15" y="1078.90" width="18.95" height="67.90" fill="#808080" stroke="#222" stroke-width="1"/>
<line x1="200.50" y1="1092.20" x2="200.50" y2="1084.40" stroke="#222" stroke-width="1" />
<line x1="195.20" y1="1084.40" x2="205.80" y2="1084.40" stroke="#222" stroke-width="1" />
<rect x="191.10" y="1092.20" width="18.95" height="54.60" fill="#fff" stroke="#222" stroke-width="1"/>
<text x="183.00" y="1144.30" transform="rotate(0.05 183.00 1144.30)" text-anchor="middle" font-size="14">5</text>
<text x="201.50" y="1144.30" transform="rotate(0.05 201.50 1144.30)" text-anchor="middle" font-size="14">3</text>
<line x1="191.10" y1="1146.80" x2="191.10" y2="1150.50" stroke="#5a5a5a" stroke-width="1" />
<line x1="257.50" y1="1097.30" x2="257.50" y2="1093.60" stroke="#222" stroke-width="1" />
<line x1="252.20" y1="1093.60" x2="262.80" y2="1093.60" stroke="#222" stroke-width="1" />
<rect x="247.90" y="1097.30" width="18.95" height="49.50" fill="#808080" stroke="#222" stroke-width="1"/>
<line x1="276.50" y1="1095.40" x2="276.50" y2="1092.70" stroke="#222" stroke-width="1" />
<line x1="271.20" y1="1092.70" x2="281.80" y2="1092.70" stroke="#222" stroke-width="1" />
<rect x="266.85" y="1095.40" width="18.95" height="51.40" fill="#fff" stroke="#222" stroke-width="1"/>
<text x="258.30" y="1144.30" transform="rotate(0.05 258.30 1144.30)" text-anchor="middle" font-size="14">4</text>
<text x="277.90" y="1144.30" transform="rotate(0.05 277.90 1144.30)" text-anchor="middle" font-size="14">4</text>
<line x1="266.85" y1="1146.80" x2="266.85" y2="1150.50" stroke="#5a5a5a" stroke-width="1" />
<line x1="333.50" y1="1084.40" x2="333.50" y2="1076.60" stroke="#222" stroke-width="1" />
<line x1="328.20" y1="1076.60" x2="338.80" y2="1076.60" stroke="#222" stroke-width="1" />
<rect x="323.65" y="1084.40" width="18.95" height="62.40" fill="#808080" stroke="#222" stroke-width="1"/>
<line x1="352.50" y1="1060.00" x2="352.50" y2="1028.80" stroke="#222" stroke-width="1" />
<line x1="347.20" y1="1028.80" x2="357.80" y2="1028.80" stroke="#222" stroke-width="1" />
<rect x="342.60" y="1060.00" width="18.95" height="86.80" fill="#fff" stroke="#222" stroke-width="1"/>
<text x="333.90" y="1144.30" transform="rotate(0.05 333.90 1144.30)" text-anchor="middle" font-size="14">6</text>
<text x="353.10" y="1144.30" transform="rotate(0.05 353.10 1144.30)" text-anchor="middle" font-size="14">3</text>
<line x1="342.60" y1="1146.80" x2="342.60" y2="1150.50" stroke="#5a5a5a" stroke-width="1" />
<line x1="77.30" y1="1146.80" x2="380.50" y2="1146.80" stroke="#444" stroke-width="1.3" />
<line x1="77.30" y1="944.80" x2="77.30" y2="1147.30" stroke="#444" stroke-width="1" />
<text x="84.25" y="964.70" transform="rotate(0.05 84.25 964.70)" text-anchor="start" font-size="14">E</text>
<line x1="380.00" y1="944.50" x2="684.00" y2="944.50" stroke="#555" stroke-width="1" />
<line x1="376.80" y1="1146.80" x2="380.50" y2="1146.80" stroke="#5a5a5a" stroke-width="1" />
<line x1="376.80" y1="1106.50" x2="380.50" y2="1106.50" stroke="#5a5a5a" stroke-width="1" />
<line x1="376.80" y1="1066.20" x2="380.50" y2="1066.20" stroke="#5a5a5a" stroke-width="1" />
<line x1="376.80" y1="1025.90" x2="380.50" y2="1025.90" stroke="#5a5a5a" stroke-width="1" />
<line x1="376.80" y1="985.60" x2="380.50" y2="985.60" stroke="#5a5a5a" stroke-width="1" />
<line x1="376.80" y1="945.30" x2="380.50" y2="945.30" stroke="#5a5a5a" stroke-width="1" />
<line x1="408.50" y1="1091.70" x2="408.50" y2="1084.00" stroke="#222" stroke-width="1" />
<line x1="403.20" y1="1084.00" x2="413.80" y2="1084.00" stroke="#222" stroke-width="1" />
<rect x="399.40" y="1091.70" width="19.00" height="54.80" fill="#808080" stroke="#222" stroke-width="1"/>
<rect x="418.40" y="1106.80" width="19.00" height="39.70" fill="#fff" stroke="#222" stroke-width="1"/>
<text x="409.90" y="1144.00" transform="rotate(0.05 409.90 1144.00)" text-anchor="middle" font-size="14">5</text>
<text x="430.20" y="1144.00" transform="rotate(0.05 430.20 1144.00)" text-anchor="middle" font-size="14">2</text>
<line x1="418.40" y1="1146.50" x2="418.40" y2="1150.20" stroke="#5a5a5a" stroke-width="1" />
<line x1="484.50" y1="1105.90" x2="484.50" y2="1099.50" stroke="#222" stroke-width="1" />
<line x1="479.20" y1="1099.50" x2="489.80" y2="1099.50" stroke="#222" stroke-width="1" />
<rect x="475.15" y="1105.90" width="19.00" height="40.60" fill="#808080" stroke="#222" stroke-width="1"/>
<line x1="503.50" y1="1090.40" x2="503.50" y2="1087.60" stroke="#222" stroke-width="1" />
<line x1="498.20" y1="1087.60" x2="508.80" y2="1087.60" stroke="#222" stroke-width="1" />
<rect x="494.15" y="1090.40" width="19.00" height="56.10" fill="#fff" stroke="#222" stroke-width="1"/>
<text x="485.50" y="1144.00" transform="rotate(0.05 485.50 1144.00)" text-anchor="middle" font-size="14">3</text>
<text x="505.20" y="1144.00" transform="rotate(0.05 505.20 1144.00)" text-anchor="middle" font-size="14">3</text>
<line x1="494.15" y1="1146.50" x2="494.15" y2="1150.20" stroke="#5a5a5a" stroke-width="1" />
<line x1="560.50" y1="1098.10" x2="560.50" y2="1094.90" stroke="#222" stroke-width="1" />
<line x1="555.20" y1="1094.90" x2="565.80" y2="1094.90" stroke="#222" stroke-width="1" />
<rect x="550.90" y="1098.10" width="19.00" height="48.40" fill="#808080" stroke="#222" stroke-width="1"/>
<rect x="569.90" y="1092.70" width="19.00" height="53.80" fill="#fff" stroke="#222" stroke-width="1"/>
<text x="561.10" y="1144.00" transform="rotate(0.05 561.10 1144.00)" text-anchor="middle" font-size="14">4</text>
<text x="580.30" y="1144.00" transform="rotate(0.05 580.30 1144.00)" text-anchor="middle" font-size="14">2</text>
<line x1="569.90" y1="1146.50" x2="569.90" y2="1150.20" stroke="#5a5a5a" stroke-width="1" />
<line x1="636.50" y1="1056.10" x2="636.50" y2="1032.80" stroke="#222" stroke-width="1" />
<line x1="631.20" y1="1032.80" x2="641.80" y2="1032.80" stroke="#222" stroke-width="1" />
<rect x="626.65" y="1056.10" width="19.00" height="90.40" fill="#808080" stroke="#222" stroke-width="1"/>
<line x1="655.50" y1="1080.80" x2="655.50" y2="1070.70" stroke="#222" stroke-width="1" />
<line x1="650.20" y1="1070.70" x2="660.80" y2="1070.70" stroke="#222" stroke-width="1" />
<rect x="645.65" y="1080.80" width="19.00" height="65.70" fill="#fff" stroke="#222" stroke-width="1"/>
<text x="636.70" y="1144.00" transform="rotate(0.05 636.70 1144.00)" text-anchor="middle" font-size="14">4</text>
<text x="655.90" y="1144.00" transform="rotate(0.05 655.90 1144.00)" text-anchor="middle" font-size="14">3</text>
<line x1="645.65" y1="1146.50" x2="645.65" y2="1150.20" stroke="#5a5a5a" stroke-width="1" />
<line x1="380.00" y1="1146.50" x2="684.00" y2="1146.50" stroke="#333" stroke-width="1" />
<line x1="683.50" y1="944.00" x2="683.50" y2="1147.00" stroke="#606060" stroke-width="1" />
<text x="387.10" y="964.60" transform="rotate(0.05 387.10 964.60)" text-anchor="start" font-size="14">J</text>
<text x="67.30" y="1151.60" transform="rotate(0.05 67.30 1151.60)" text-anchor="end" font-size="14">0.0</text>
<text x="67.30" y="1111.30" transform="rotate(0.05 67.30 1111.30)" text-anchor="end" font-size="14">0.6</text>
<text x="67.30" y="1071.00" transform="rotate(0.05 67.30 1071.00)" text-anchor="end" font-size="14">1.2</text>
<text x="67.30" y="1030.70" transform="rotate(0.05 67.30 1030.70)" text-anchor="end" font-size="14">1.8</text>
<text x="67.30" y="990.40" transform="rotate(0.05 67.30 990.40)" text-anchor="end" font-size="14">2.4</text>
<text x="67.30" y="950.10" transform="rotate(0.05 67.30 950.10)" text-anchor="end" font-size="14">3.0</text>
<text transform="translate(32.30,1045.80) rotate(-89.95)" x="-63.75" y="0" font-size="14.25"><tspan>Total lipids (J gdw</tspan><tspan dy="-7.4" font-size="9.8">-1</tspan><tspan dy="7.4" font-size="14.25">)</tspan></text>
<line x1="76.5" y1="363" x2="379" y2="363" stroke="#000" stroke-opacity="0.47" stroke-width="1.3" stroke-dasharray="9.6 3.2"/>
<line x1="379.5" y1="363" x2="682" y2="363" stroke="#000" stroke-opacity="0.47" stroke-width="1.3" stroke-dasharray="9.6 3.2" stroke-dashoffset="3.3"/>
<text x="73.90" y="11.20" transform="rotate(0.05 73.90 11.20)" text-anchor="start" font-size="13.9">Kane'ohe Bay</text>
<text x="376.80" y="11.40" transform="rotate(0.05 376.80 11.40)" text-anchor="start" font-size="14.2">Waimanalo Bay</text>
<text x="374.80" y="31.60" transform="rotate(0.05 374.80 31.60)" text-anchor="end" font-size="14.2">bleaching status</text>
<text x="676.20" y="32.40" transform="rotate(0.05 676.20 32.40)" text-anchor="end" font-size="14.2">bleaching status</text>
<text x="374.70" y="258.70" transform="rotate(0.05 374.70 258.70)" text-anchor="end" font-size="14.2">pH x feeding</text>
<rect x="423.30" y="29.30" width="30.60" height="9.80" fill="#808080" stroke="#222" stroke-width="1"/>
<rect x="423.30" y="45.40" width="30.60" height="9.50" fill="#fff" stroke="#222" stroke-width="1"/>
<text x="462.40" y="38.90" transform="rotate(0.05 462.40 38.90)" text-anchor="start" font-size="14.1">Non-bleached</text>
<text x="462.40" y="55.00" transform="rotate(0.05 462.40 55.00)" text-anchor="start" font-size="14.1">Bleached</text>
<text x="190.80" y="91.00" transform="rotate(0.05 190.80 91.00)" text-anchor="middle" font-size="21" font-weight="bold">*</text>
<text x="342.10" y="89.80" transform="rotate(0.05 342.10 89.80)" text-anchor="middle" font-size="21" font-weight="bold">*</text>
<text x="643.90" y="107.00" transform="rotate(0.05 643.90 107.00)" text-anchor="middle" font-size="21" font-weight="bold">*</text>
<text x="642.00" y="537.80" transform="rotate(0.05 642.00 537.80)" text-anchor="middle" font-size="21" font-weight="bold">*</text>
<text x="354.90" y="1025.50" transform="rotate(0.05 354.90 1025.50)" text-anchor="middle" font-size="14">2</text>
<text x="115.20" y="1169.60" transform="rotate(0.05 115.20 1169.60)" text-anchor="middle" font-size="14.2">Control</text>
<text x="191.10" y="1169.60" transform="rotate(0.05 191.10 1169.60)" text-anchor="middle" font-size="14.2">Fed</text>
<text x="267.00" y="1169.60" transform="rotate(0.05 267.00 1169.60)" text-anchor="middle" font-size="14.2">OA</text>
<text x="342.60" y="1169.60" transform="rotate(0.05 342.60 1169.60)" text-anchor="middle" font-size="14.2">OA + fed</text>
<text x="418.00" y="1169.60" transform="rotate(0.05 418.00 1169.60)" text-anchor="middle" font-size="14.2">Control</text>
<text x="493.70" y="1169.60" transform="rotate(0.05 493.70 1169.60)" text-anchor="middle" font-size="14.2">Fed</text>
<text x="569.30" y="1169.60" transform="rotate(0.05 569.30 1169.60)" text-anchor="middle" font-size="14.2">OA</text>
<text x="645.70" y="1169.60" transform="rotate(0.05 645.70 1169.60)" text-anchor="middle" font-size="14.2">OA + fed</text>
</svg>
</body></html>
